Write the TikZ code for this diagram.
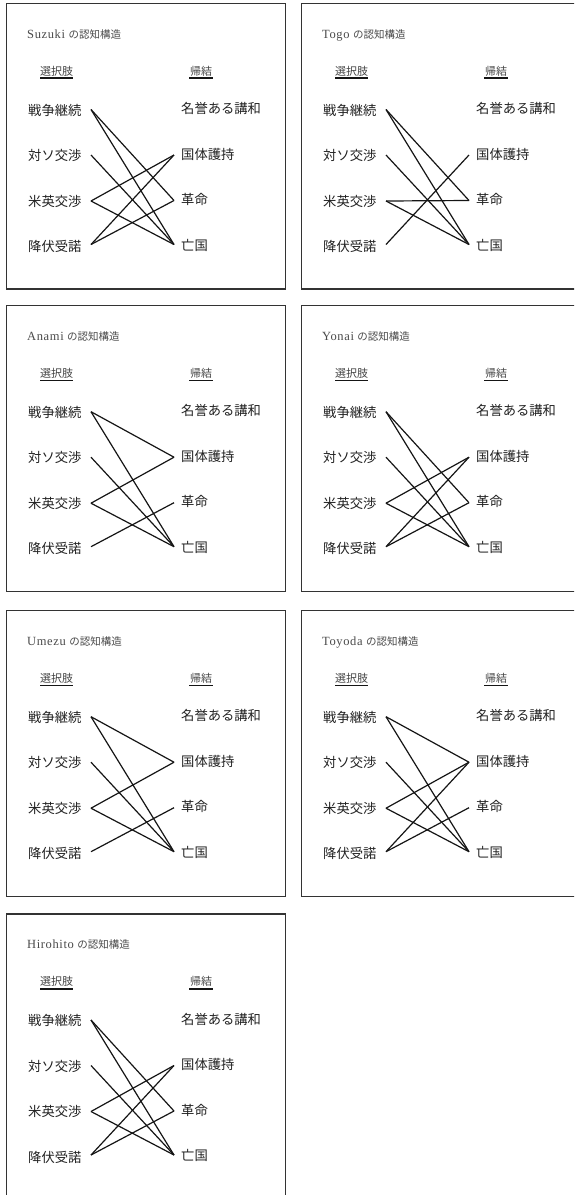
\documentclass[tikz,border=0pt]{standalone}
\usepackage{fontspec}
\setmainfont{Liberation Serif}
\newfontfamily\jp{Noto Sans CJK JP}
\newfontfamily\lat[LetterSpace=5]{Liberation Serif}
\definecolor{framec}{HTML}{333333}
\definecolor{titlec}{HTML}{4a4a4a}
\definecolor{hdrc}{HTML}{444444}
\definecolor{lblc}{HTML}{222222}
\definecolor{linec}{HTML}{151515}
\tikzset{
  frame/.style={draw=framec, line width=1.3pt},
  ttl/.style={anchor=base west, inner sep=0pt, text=titlec},
  hdr/.style={inner sep=0pt, font=\jp\fontsize{11}{11}\selectfont, text=hdrc},
  lbl/.style={anchor=west, inner sep=0pt, font=\jp\fontsize{13.3}{14}\selectfont, text=lblc},
  conn/.style={draw=linec, line width=1.2pt},
  uline/.style={draw=linec, line width=1.8pt}
}
\newcommand\cogpanel[4]{%
  \begin{scope}[shift={(#1,#2)}]
    \draw[frame] (0,0) rectangle (279,285.5);
    \node[ttl] (#3-t) at (20.5,34.5) {{\lat\fontsize{12.5}{12.5}\selectfont #3}\hspace{3.5pt}{\jp\fontsize{10.5}{10.5}\selectfont の認知構造}};
    \node[hdr] (#3-h1) at (50,67.5) {選択肢};
    \node[hdr] (#3-h2) at (194.5,67.5) {帰結};
    \coordinate (#3-u1a) at (33.5,74.8);
    \coordinate (#3-u1b) at (66.5,74.8);
    \coordinate (#3-u2a) at (182.5,74.8);
    \coordinate (#3-u2b) at (206.5,74.8);
    \draw[uline] (#3-u1a) -- (#3-u1b);
    \draw[uline] (#3-u2a) -- (#3-u2b);
    \node[lbl] (#3-a1) at (21.5,106.5) {戦争継続};
    \node[lbl] (#3-a2) at (21.5,152) {対ソ交渉};
    \node[lbl] (#3-a3) at (21.5,197.5) {米英交渉};
    \node[lbl] (#3-a4) at (21.5,243) {降伏受諾};
    \node[lbl] (#3-b1) at (174.5,105) {名誉ある講和};
    \node[lbl] (#3-b2) at (174.5,150.5) {国体護持};
    \node[lbl] (#3-b3) at (174.5,196) {革命};
    \node[lbl] (#3-b4) at (174.5,241.5) {亡国};
    \coordinate (#3-l1) at (84.5,106);
    \coordinate (#3-l2) at (84.5,151.5);
    \coordinate (#3-l3) at (84.5,197.5);
    \coordinate (#3-l4) at (84.5,241);
    \coordinate (#3-r1) at (167.5,106);
    \coordinate (#3-r2) at (167.5,151.5);
    \coordinate (#3-r3) at (167.5,197);
    \coordinate (#3-r4) at (167.5,241);
    \foreach \a/\b in {#4} {\draw[conn] (#3-l\a) -- (#3-r\b);}
  \end{scope}}
\begin{document}
\begin{tikzpicture}[x=1pt,y=-1pt]
  \clip (0,0) rectangle (574,1195);
  \fill[white] (0,0) rectangle (574,1195);
  \cogpanel{6.5}{3.5}{Suzuki}{1/3,1/4,2/4,3/2,3/4,4/2,4/3}
  \cogpanel{301.5}{3.5}{Togo}{1/3,1/4,2/4,3/3,3/4,4/2}
  \cogpanel{6.5}{305.7}{Anami}{1/2,1/4,2/4,3/2,3/4,4/3}
  \cogpanel{301.5}{305.7}{Yonai}{1/3,1/4,2/4,3/2,3/4,4/2,4/3}
  \cogpanel{6.5}{610.7}{Umezu}{1/2,1/4,2/4,3/2,3/4,4/3}
  \cogpanel{301.5}{610.7}{Toyoda}{1/2,1/4,2/4,3/2,3/4,4/2,4/3}
  \cogpanel{6.5}{914}{Hirohito}{1/3,1/4,2/4,3/2,3/4,4/2,4/3}
\end{tikzpicture}
\end{document}
